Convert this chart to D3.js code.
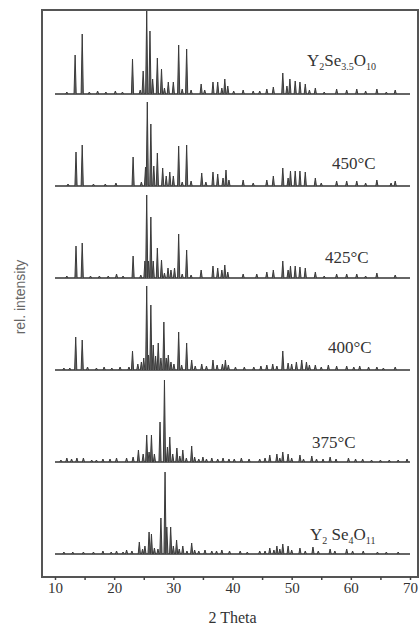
<!DOCTYPE html>
<html>
<head>
<meta charset="utf-8">
<script src="https://cdn.jsdelivr.net/npm/d3@7"></script>
<style>
body { margin: 0; background: #fff; }
svg { display: block; }
.tick text { font-family: "Liberation Serif", "Times New Roman", serif; font-size: 15px; fill: #333; }
.tick line { stroke: #444; stroke-width: 1.5; }
.lbl { font-family: "Liberation Serif", "Times New Roman", serif; font-size: 17px; fill: #333; }
</style>
</head>
<body>
<svg width="419" height="627"></svg>
<script>
// peak lists [2theta, rel. intensity], bottom trace first
var seriesNames = ["Y2Se4O11", "375", "400", "425", "450", "Y2Se3.5O10"];

var peaksSe4O11 = [[11.5,2],[13.0,2],[14.8,2],[16.5,2],[18.1,3],[19.5,2],[20.4,3],[21.5,2],[22.1,4],[23.0,3],
	[24.25,12],[24.8,5],[25.2,8],[25.9,22],[26.3,20],[26.8,6],[27.4,5],[27.9,36],[28.6,82],[28.9,27],[29.55,27],
	[30.0,8],[30.55,14],[31.0,5],[31.6,8],[32.3,3],[33.1,11],[33.6,4],[34.3,3],[35.35,4],[36.5,3],[37.3,3],
	[38.2,4],[39.5,3],[41.3,3],[42.5,2],[44.6,3],[45.5,3],[46.3,6],[47.0,4],[47.5,8],[48.0,5],[48.5,10],
	[49.4,8],[50.0,4],[51.4,6],[52.3,3],[53.6,7],[54.5,3],[56.5,5],[57.3,3],[59.3,5],[60.3,3],[62.1,3],
	[64.5,2],[66.0,2],[68.0,2]];

var peaks375 = [[11.0,2],[12.0,4],[12.8,3],[13.7,4],[14.8,4],[16.2,2],[17.0,2],[18.1,3],[19.3,3],[20.4,4],
	[22.1,4],[23.2,5],[24.1,12],[24.9,8],[25.5,27],[25.9,10],[26.3,27],[26.8,8],[27.75,40],[28.5,82],[29.0,15],
	[29.4,25],[29.9,8],[30.6,14],[31.1,6],[31.6,12],[32.2,4],[33.1,16],[33.6,5],[34.3,3],[35.0,5],[35.6,3],
	[36.5,4],[37.5,3],[38.4,4],[39.4,3],[40.3,3],[41.5,4],[42.8,3],[44.6,3],[45.5,4],[46.3,7],[47.5,8],
	[48.0,4],[48.5,10],[49.4,8],[50.0,4],[51.4,7],[52.0,3],[53.4,6],[54.2,3],[55.3,3],[56.5,5],[57.5,3],
	[59.6,4],[60.8,3],[62.0,3],[63.5,2],[65.0,2],[66.5,2],[68.0,2],[69.5,3]];

var peaks400 = [[11.5,2],[12.5,2],[13.5,33],[14.6,30],[15.5,3],[17.0,2],[18.3,3],[19.6,2],[21.0,3],[22.5,3],
	[23.1,19],[24.0,6],[24.6,8],[25.0,12],[25.5,84],[25.8,15],[26.2,65],[26.6,25],[27.0,14],[27.45,27],
	[27.9,12],[28.4,48],[28.8,12],[29.15,15],[29.6,8],[30.1,6],[30.9,38],[31.4,5],[32.25,27],[33.1,10],
	[33.7,4],[34.8,6],[35.6,4],[36.7,10],[37.4,5],[38.3,6],[38.8,10],[39.3,5],[40.5,3],[42.0,3],[43.6,3],
	[44.8,4],[45.8,5],[46.8,6],[47.5,4],[48.5,19],[49.4,7],[50.0,6],[50.8,8],[51.7,10],[52.5,8],[53.0,5],
	[54.0,5],[55.0,3],[56.2,5],[57.6,4],[59.3,4],[60.5,3],[61.5,4],[63.0,3],[64.4,3],[65.5,2],[67.5,3]];

var peaks425 = [[12.0,2],[13.55,32],[14.6,35],[16.0,2],[17.5,2],[19.0,2],[20.4,4],[21.5,2],[23.2,22],[24.5,3],
	[25.2,17],[25.5,83],[25.8,17],[26.2,61],[26.6,17],[27.3,30],[28.0,18],[28.5,5],[29.1,10],[29.6,8],
	[30.2,10],[30.9,44],[31.5,4],[32.25,28],[33.0,3],[34.7,8],[36.7,12],[37.5,10],[38.2,8],[38.7,13],
	[39.2,6],[41.8,4],[44.1,4],[45.8,6],[46.9,8],[48.5,17],[49.4,8],[49.8,12],[50.6,12],[51.4,11],[52.3,10],
	[54.0,6],[55.5,2],[57.6,4],[59.3,4],[61.0,4],[62.5,2],[64.4,5],[67.5,3]];

var peaks450 = [[12.2,2],[13.55,34],[14.6,41],[16.5,2],[18.5,2],[20.3,3],[23.2,29],[24.6,4],[25.3,19],[25.6,84],
	[26.2,62],[26.7,20],[27.3,33],[28.2,18],[28.8,10],[29.4,14],[30.0,10],[30.9,40],[31.5,4],[32.25,41],
	[33.0,5],[34.8,13],[35.5,4],[36.7,14],[37.5,12],[38.4,8],[38.9,16],[39.4,6],[41.8,6],[43.5,3],[45.8,6],
	[46.9,10],[48.5,18],[49.4,8],[49.8,15],[50.6,15],[51.4,15],[52.3,14],[54.0,8],[55.0,3],[57.6,5],
	[59.3,5],[61.0,5],[62.5,3],[64.4,6],[66.8,3],[67.5,5]];

var peaksSe35O10 = [[12.0,2],[13.4,39],[14.6,60],[15.8,2],[17.2,3],[18.6,2],[20.2,3],[21.4,2],[23.1,35],[24.4,4],
	[24.9,23],[25.5,83],[26.05,63],[26.5,15],[27.3,36],[28.0,25],[28.5,6],[29.15,12],[30.0,12],[30.9,49],
	[31.5,5],[32.25,45],[33.0,4],[34.7,10],[35.3,4],[36.7,12],[37.5,12],[38.2,6],[38.7,15],[39.2,8],
	[40.2,3],[41.8,4],[43.5,3],[44.6,3],[45.8,5],[46.9,7],[48.5,21],[49.2,8],[49.7,15],[50.6,13],[51.4,12],
	[52.3,10],[53.0,4],[54.0,6],[55.5,2],[57.6,5],[59.3,4],[61.0,5],[62.5,3],[64.4,5],[66.0,2],[67.5,4]];

var allPeaks = [peaksSe4O11, peaks375, peaks400, peaks425, peaks450, peaksSe35O10];
var majorTicks = [10, 20, 30, 40, 50, 60, 70];
var minorTicks = [15, 25, 35, 45, 55, 65];
var xRange = [10, 70];

function drawChart(){
	var svg = d3.select("svg");
	var left = 42, right = 418, top = 10, bottom = 577;
	var offset = 92;

	var x = d3.scaleLinear().domain(xRange).range([55, 410]);
	var y = d3.scaleLinear().domain([-23, 544]).range([bottom, top]);

	var plot = svg.append("g");

	allPeaks.forEach(function(peaks, i){
		var base = i * offset;
		var g = plot.append("g").attr("class", "trace");
		g.append("line")
			.attr("x1", x(xRange[0])).attr("x2", x(xRange[1]))
			.attr("y1", y(base)).attr("y2", y(base))
			.attr("stroke", "#333").attr("stroke-width", 1.4);
		g.selectAll("path.peak").data(peaks)
			.enter().append("path")
			.attr("class", "peak")
			.attr("d", function(d){
				var x0 = x(d[0]);
				return "M" + (x0 - 1.1) + "," + y(base) + "L" + x0 + "," + y(base + d[1]) + "L" + (x0 + 1.1) + "," + y(base);
			})
			.attr("fill", "#666")
			.attr("stroke", "#3a3a3a")
			.attr("stroke-width", 1)
			.attr("stroke-linejoin", "round");
	});

	// frame
	svg.append("rect")
		.attr("x", left).attr("y", top)
		.attr("width", right - left).attr("height", bottom - top)
		.attr("fill", "none").attr("stroke", "#555").attr("stroke-width", 2);

	var axis = svg.append("g").attr("transform", "translate(0," + bottom + ")")
		.call(d3.axisBottom(x).tickValues(majorTicks).tickSize(3).tickPadding(2).tickFormat(d3.format("d")));
	axis.select(".domain").remove();
	var minor = svg.append("g").attr("transform", "translate(0," + bottom + ")")
		.call(d3.axisBottom(x).tickValues(minorTicks).tickSize(3).tickFormat(""));
	minor.select(".domain").remove();

	svg.append("text")
		.attr("class", "lbl")
		.attr("x", (x(10) + x(70)) / 2).attr("y", 623)
		.attr("text-anchor", "middle")
		.style("font-size", "16px")
		.text("2 Theta");

	svg.append("text")
		.attr("transform", "translate(25,297) rotate(-90)")
		.attr("text-anchor", "middle")
		.style("font-family", "'Liberation Sans', Arial, sans-serif")
		.style("font-size", "14px")
		.style("fill", "#666")
		.text("rel. intensity");

	// trace labels
	var labels = [
		{parts: [["Y", 0], ["2", 1], ["Se", 0], ["3.5", 1], ["O", 0], ["10", 1]], x: 307, y: 66},
		{parts: [["450°C", 0]], x: 332, y: 169},
		{parts: [["425°C", 0]], x: 325, y: 263},
		{parts: [["400°C", 0]], x: 328, y: 353},
		{parts: [["375°C", 0]], x: 312, y: 448},
		{parts: [["Y", 0], ["2", 1], [" Se", 0], ["4", 1], ["O", 0], ["11", 1]], x: 310, y: 540}
	];
	labels.forEach(function(l){
		var t = svg.append("text").attr("class", "lbl").attr("x", l.x).attr("y", l.y);
		var sub = false;
		l.parts.forEach(function(p){
			var s = t.append("tspan").text(p[0]);
			if (p[1] && !sub) { s.attr("dy", 4).style("font-size", "10px"); sub = true; }
			else if (!p[1] && sub) { s.attr("dy", -4); sub = false; }
			else if (p[1]) { s.style("font-size", "10px"); }
		});
	});
}
drawChart();
</script>
</body>
</html>
